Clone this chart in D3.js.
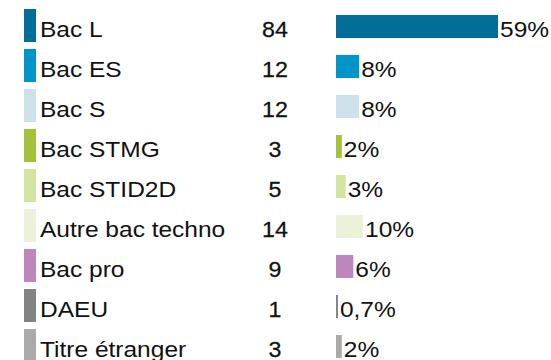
<!DOCTYPE html>
<html>
<head>
<meta charset="utf-8">
<script src="https://cdn.jsdelivr.net/npm/d3@7"></script>
<style>
  html, body { margin: 0; padding: 0; background: #fff; }
  svg { display: block; }
  text { font-family: "Liberation Sans", Arial, sans-serif; fill: #111; }
</style>
</head>
<body>
<svg id="chart" width="551" height="360"></svg>
<script>
// Diploma of origin: label, headcount, share label, colour
const categories = ["Bac L", "Bac ES", "Bac S", "Bac STMG", "Bac STID2D",
                    "Autre bac techno", "Bac pro", "DAEU", "Titre étranger"];
const counts = [84, 12, 12, 3, 5, 14, 9, 1, 3];
const shareLabels = ["59%", "8%", "8%", "2%", "3%", "10%", "6%", "0,7%", "2%"];
const colors = ["#006e96", "#0095c8", "#cce1e9", "#a5c13a", "#d4e3a1",
                "#ecf2da", "#bd86bc", "#838383", "#aaaaaa"];

const svg = d3.select("#chart");

const rowH = 40;
const y = d3.scaleBand()
  .domain(categories)
  .range([9, 9 + rowH * categories.length])
  .paddingInner(0);

const barX0 = 336;
const x = d3.scaleLinear()
  .domain([0, d3.max(counts)])
  .range([0, 162]);

const rows = svg.selectAll("g.row")
  .data(categories.map((c, i) => ({ cat: c, n: counts[i], lab: shareLabels[i], col: colors[i] })))
  .join("g")
  .attr("class", "row")
  .attr("transform", d => `translate(0,${y(d.cat)})`);

// colour swatch
rows.append("rect")
  .attr("x", 24).attr("y", 0)
  .attr("width", 12).attr("height", 33)
  .attr("fill", d => d.col);

const fs = 21.5, sx = 1.14;

// category label
rows.append("text")
  .attr("transform", `translate(40,28) scale(${sx},1)`)
  .attr("font-size", fs)
  .text(d => d.cat);

// headcount
rows.append("text")
  .attr("transform", "translate(275,28) scale(1.08,1)")
  .attr("text-anchor", "middle")
  .attr("font-size", fs)
  .attr("stroke", "#111")
  .attr("stroke-width", 0.25)
  .text(d => d.n);

// share bar
rows.append("rect")
  .attr("x", barX0).attr("y", 6)
  .attr("width", d => x(d.n))
  .attr("height", 23)
  .attr("fill", d => d.col);

// share label
rows.append("text")
  .attr("transform", d => `translate(${barX0 + x(d.n) + 2},28) scale(${sx},1)`)
  .attr("font-size", fs)
  .text(d => d.lab);
</script>
</body>
</html>
